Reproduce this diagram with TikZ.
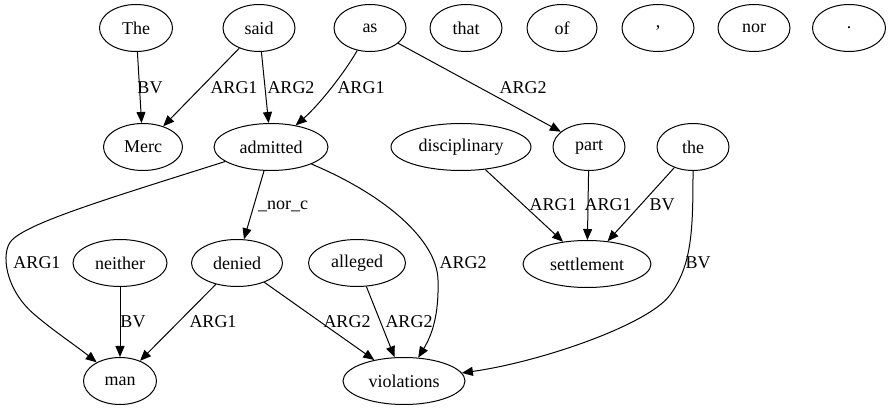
\documentclass[tikz,border=0pt]{standalone}
\usepackage{fontspec}
\setmainfont{Liberation Serif}
\usetikzlibrary{arrows.meta,shapes.geometric}

\begin{document}
\begin{tikzpicture}[x=1pt,y=-1pt,>={Triangle[length=11pt,width=9pt]},
 font=\fontsize{18}{21}\selectfont,
 tok/.style={draw,ellipse,line width=1pt,inner sep=0pt,minimum height=47pt,minimum width=72pt},
 dep/.style={->,line width=1pt},
 lbl/.style={inner sep=0pt}]
 \useasboundingbox (0,0) rectangle (891,411);
 % tokens, row by row
 \node[tok,minimum width=73pt] (the1) at (136,28) {The};
 \node[tok] (said) at (259,28) {said};
 \node[tok] (as) at (370,28) {as};
 \node[tok] (that) at (466,28) {that};
 \node[tok,minimum width=70pt] (of) at (562,28) {of};
 \node[tok] (comma) at (658,28) {,};
 \node[tok] (nor) at (754,28) {nor};
 \node[tok,minimum width=73pt] (stop) at (849,28) {.};
 \node[tok,minimum width=79pt] (merc) at (143,147) {Merc};
 \node[tok,minimum width=114pt] (admitted) at (271,147) {admitted};
 \node[tok,minimum width=140pt] (disciplinary) at (461,147) {disciplinary};
 \node[tok] (part) at (589,147) {part};
 \node[tok] (the2) at (693,147) {the};
 \node[tok,minimum width=94pt] (neither) at (120,263) {neither};
 \node[tok,minimum width=91pt] (denied) at (237,263) {denied};
 \node[tok,minimum width=97pt] (alleged) at (357,263) {alleged};
 \node[tok,minimum width=128pt] (settlement) at (587,264) {settlement};
 \node[tok,minimum width=73pt] (man) at (120,381) {man};
 \node[tok,minimum width=122pt] (violations) at (404,381) {violations};
 % dependencies
 \draw[dep] (the1) -- (merc) node[lbl] at (150,88) {BV};
 \draw[dep] (said) -- (merc) node[lbl] at (234,88) {ARG1};
 \draw[dep] (said) -- (admitted) node[lbl] at (291,88) {ARG2};
 \draw[dep] (as) .. controls (345,72) and (320,104) .. (admitted) node[lbl] at (361,88) {ARG1};
 \draw[dep] (as) -- (part) node[lbl] at (523,88) {ARG2};
 \draw[dep] (admitted) .. controls (110,198) and (30,222) .. (12,240)
  .. controls (0,252) and (5,290) .. (35,315)
  .. controls (55,332) and (75,345) .. (man) node[lbl] at (37,263) {ARG1};
 \draw[dep] (admitted) -- (denied) node[lbl] at (283,206) {\_nor\_c};
 \draw[dep] (admitted) .. controls (385,195) and (437,240) .. (438,280)
  .. controls (439,315) and (432,335) .. (violations) node[lbl] at (463,263) {ARG2};
 \draw[dep] (neither) -- (man) node[lbl] at (133,322) {BV};
 \draw[dep] (denied) -- (man) node[lbl] at (213,322) {ARG1};
 \draw[dep] (denied) -- (violations) node[lbl] at (347,322) {ARG2};
 \draw[dep] (alleged) -- (violations) node[lbl] at (409,322) {ARG2};
 \draw[dep] (disciplinary) -- (settlement) node[lbl] at (553,205) {ARG1};
 \draw[dep] (part) -- (settlement) node[lbl] at (608,205) {ARG1};
 \draw[dep] (the2) -- (settlement) node[lbl] at (662,205) {BV};
 \draw[dep] (the2) .. controls (693,230) and (692,265) .. (670,295)
  .. controls (648,325) and (540,362) .. (violations) node[lbl] at (698,263) {BV};
\end{tikzpicture}
\end{document}
